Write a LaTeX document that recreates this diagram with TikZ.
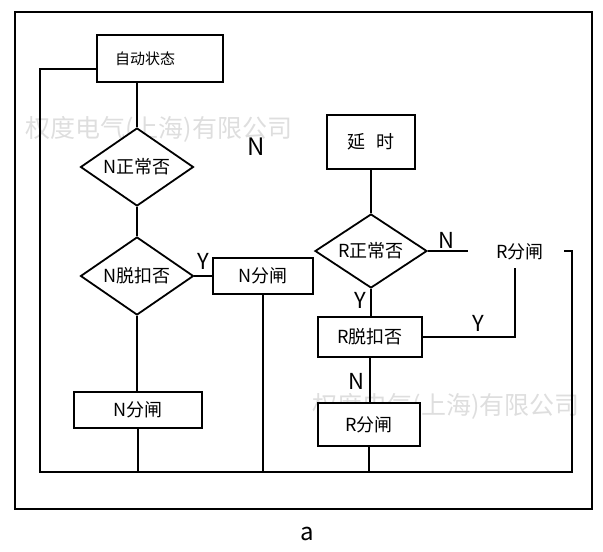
\documentclass[tikz,border=0pt]{standalone}
\usepackage{fontspec}
\setmainfont{Noto Sans CJK SC}
\usetikzlibrary{positioning,calc,shapes.geometric}
\definecolor{markgray}{RGB}{222,222,222}

\begin{document}
\begin{tikzpicture}[
    x=1pt, y=-1pt,
    flowbox/.style={rectangle, draw=black, fill=white, line width=1.8pt,
                    inner sep=0pt, align=center, font=\fontsize{18pt}{20pt}\selectfont},
    flowdiamond/.style={diamond, draw=black, fill=white, line width=1.8pt,
                        inner sep=0pt, aspect=1.45, font=\fontsize{18pt}{20pt}\selectfont},
    flowlabel/.style={font=\fontsize{22pt}{24pt}\selectfont, inner sep=0pt},
    watermark/.style={text=markgray, font=\fontsize{25pt}{27pt}\selectfont, inner sep=0pt},
    link/.style={line width=1.8pt, draw=black}
]
\useasboundingbox (0,0) rectangle (603,552);

% watermarks
\node[watermark] (mark1) at (159,129) {权度电气(上海)有限公司};
\node[watermark] (mark2) at (446,406) {权度电气(上海)有限公司};

% frame
\draw[line width=1.8pt] (15,12) rectangle (592,509);

% N side
\node[flowbox, text width=90pt, inner xsep=18pt, minimum height=47pt, align=left,
      font=\fontsize{15pt}{17pt}\selectfont] (auto) at (160,58.5) {自动状态};
\node[flowdiamond, minimum width=113pt, minimum height=78pt] (nchk) at (137,167) {N正常否};
\node[flowdiamond, minimum width=113pt, minimum height=78pt] (ntrip) at (137,276) {N脱扣否};
\node[flowbox, minimum width=100pt, minimum height=36pt] (ntripbox) at (263,276) {N分闸};
\node[flowbox, minimum width=128pt, minimum height=36pt] (nopen) at (138,410) {N分闸};

% R side
\node[flowbox, minimum width=88pt, minimum height=54pt] (delay) at (371,142) {延\hspace{0.6em}时};
\node[flowdiamond, minimum width=112pt, minimum height=74pt] (rchk) at (371,251) {R正常否};
\node[flowbox, minimum width=104pt, minimum height=40pt] (rtrip) at (370,337) {R脱扣否};
\node[flowbox, minimum width=102pt, minimum height=43pt] (ropen) at (369,424.5) {R分闸};
\node[font=\fontsize{18pt}{20pt}\selectfont, inner sep=2pt] (rtext) at (520,252) {R分闸};

\coordinate (loopL) at (40,472);
\coordinate (loopR) at (572,472);
\coordinate (hook) at (564,251);
\coordinate (nend) at (468,251);

% connectors
\draw[link] (nchk.north |- auto.south) -- (nchk.north);
\draw[link] (nchk.south) -- (ntrip.north);
\draw[link] (ntrip.east) -- (ntripbox.west);
\draw[link] (ntrip.south) -- (ntrip.south |- nopen.north);
\draw[link] (nopen.south) -- (nopen.south |- loopL);
\draw[link] (ntripbox.south) -- (ntripbox.south |- loopL);
\draw[link] ([yshift=-10.5pt]auto.west) -| (loopL) -- (loopR) |- (hook);

\draw[link] (delay.south) -- (rchk.north);
\draw[link] (rchk.east) -- (nend);
\draw[link] (rchk.south) -- (rchk.south |- rtrip.north);
\draw[link] (rtrip.east) -| ([xshift=-5pt,yshift=-6pt]rtext.south);
\draw[link] (rtrip.south) -- (rtrip.south |- ropen.north);
\draw[link] (ropen.south) -- (ropen.south |- loopL);

% labels
\node[flowlabel, font=\fontsize{24pt}{26pt}\selectfont] (nbig) at (256,147) {N};
\node[flowlabel] (ny) at (203,261) {Y};
\node[flowlabel] (rn) at (446,240) {N};
\node[flowlabel] (ry) at (360,300) {Y};
\node[flowlabel] (ry2) at (478,323) {Y};
\node[flowlabel] (rn2) at (356,381) {N};
\node[flowlabel, font=\fontsize{24pt}{26pt}\selectfont] (caption) at (307,534) {a};

\end{tikzpicture}
\end{document}
